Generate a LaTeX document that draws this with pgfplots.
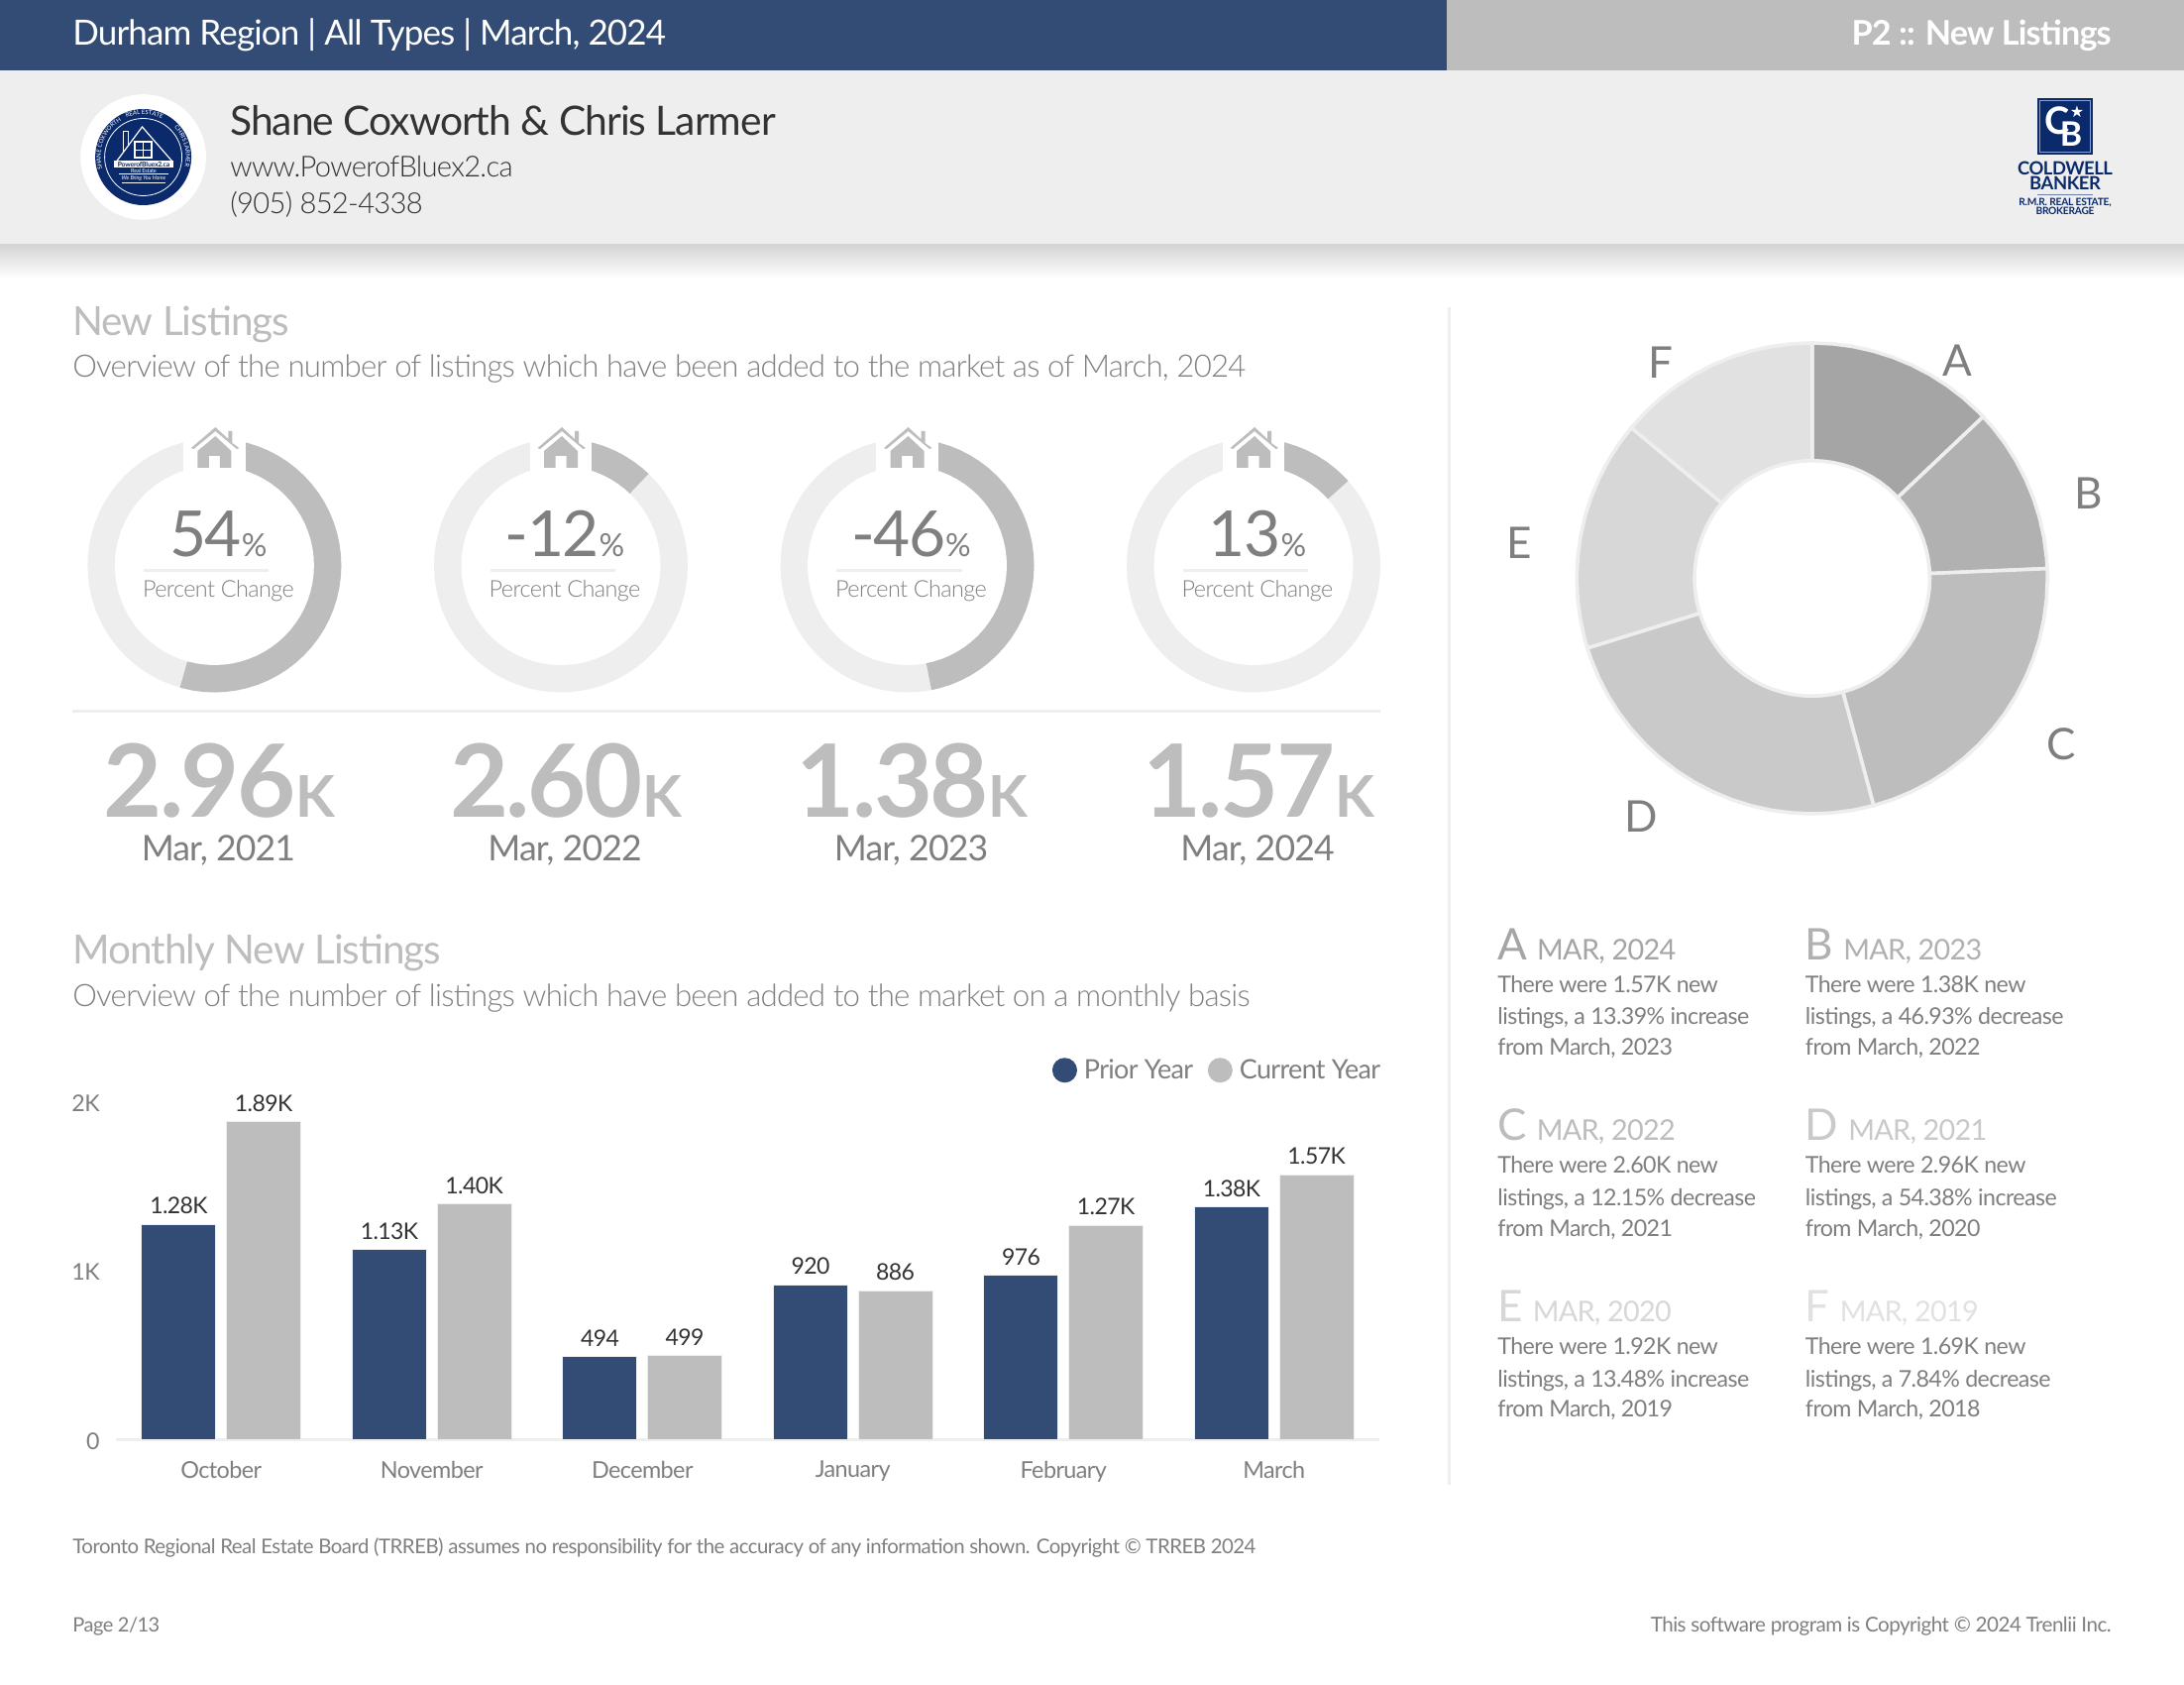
\documentclass[border=0pt]{standalone}
\usepackage{pgfplots}
\pgfplotsset{compat=1.18}
\usepackage{pgfplotstable}
\usepackage{fontspec}
\usepgfplotslibrary{polar}
\usetikzlibrary{decorations.text}
\setmainfont{Lato}[LetterSpace=-2.5]
\newfontfamily\light{Lato Light}[LetterSpace=-2.5]
\newfontfamily\sym{DejaVu Sans}
\definecolor{navy}{HTML}{334C75}
\definecolor{logoblue}{HTML}{0B2A6B}
\definecolor{midgray}{HTML}{BDBDBD}
\definecolor{pale}{HTML}{EEEEEE}
\definecolor{txt}{HTML}{7F7F7F}
\definecolor{dark}{HTML}{333333}
\definecolor{sa}{HTML}{A5A5A5}
\definecolor{sb}{HTML}{B1B1B1}
\definecolor{sc}{HTML}{BDBDBD}
\definecolor{sd}{HTML}{C9C9C9}
\definecolor{se}{HTML}{D7D7D7}
\definecolor{sf}{HTML}{E1E1E1}
\newcommand\fs[1]{\fontsize{#1}{#1}\selectfont}

% unit circle, outer radius and the two hole radii
\pgfplotstableread{
a r donut gauge
0 1 0.5 0.785
5 1 0.5 0.785
10 1 0.5 0.785
15 1 0.5 0.785
20 1 0.5 0.785
25 1 0.5 0.785
30 1 0.5 0.785
35 1 0.5 0.785
40 1 0.5 0.785
45 1 0.5 0.785
50 1 0.5 0.785
55 1 0.5 0.785
60 1 0.5 0.785
65 1 0.5 0.785
70 1 0.5 0.785
75 1 0.5 0.785
80 1 0.5 0.785
85 1 0.5 0.785
90 1 0.5 0.785
95 1 0.5 0.785
100 1 0.5 0.785
105 1 0.5 0.785
110 1 0.5 0.785
115 1 0.5 0.785
120 1 0.5 0.785
125 1 0.5 0.785
130 1 0.5 0.785
135 1 0.5 0.785
140 1 0.5 0.785
145 1 0.5 0.785
150 1 0.5 0.785
155 1 0.5 0.785
160 1 0.5 0.785
165 1 0.5 0.785
170 1 0.5 0.785
175 1 0.5 0.785
180 1 0.5 0.785
185 1 0.5 0.785
190 1 0.5 0.785
195 1 0.5 0.785
200 1 0.5 0.785
205 1 0.5 0.785
210 1 0.5 0.785
215 1 0.5 0.785
220 1 0.5 0.785
225 1 0.5 0.785
230 1 0.5 0.785
235 1 0.5 0.785
240 1 0.5 0.785
245 1 0.5 0.785
250 1 0.5 0.785
255 1 0.5 0.785
260 1 0.5 0.785
265 1 0.5 0.785
270 1 0.5 0.785
275 1 0.5 0.785
280 1 0.5 0.785
285 1 0.5 0.785
290 1 0.5 0.785
295 1 0.5 0.785
300 1 0.5 0.785
305 1 0.5 0.785
310 1 0.5 0.785
315 1 0.5 0.785
320 1 0.5 0.785
325 1 0.5 0.785
330 1 0.5 0.785
335 1 0.5 0.785
340 1 0.5 0.785
345 1 0.5 0.785
350 1 0.5 0.785
355 1 0.5 0.785
360 1 0.5 0.785
}\circletab

\pgfplotsset{
  ring/.style={hide axis, scale only axis, clip=false, xmin=0, xmax=360, ymin=0, ymax=1,
    width=128pt, height=128pt, anchor=center},
}

% house icon in the gap of each gauge
\newcommand\house[1]{%
  \fill[white] (#1-31.3,425) rectangle (#1+31.3,475);
  \fill[midgray] (#1-23.5,452) -- (#1+1,431) -- (#1+14,443) -- (#1+14,435) -- (#1+18,435)
     -- (#1+18,447) -- (#1+25,452) -- (#1+22.5,453) -- (#1+1,435) -- (#1-21,453) -- cycle;
  \fill[midgray] (#1+1,440) -- (#1-17,455) -- (#1-17,472) -- (#1-5.5,472) -- (#1-5.5,460)
     -- (#1+5.5,460) -- (#1+5.5,472) -- (#1+17,472) -- (#1+17,455) -- cycle;
}
% number block under a gauge
\newcommand\gaugetext[4]{%
  \node[anchor=base,inner sep=0,text=txt] at (#1+4,561.7) {\fs{32}#2{\fs{16}\%}};
  \fill[pale] (#1-71.5,573.5) rectangle (#1+55,576.5);
  \node[anchor=center,inner sep=0,text=txt] at (#1+4,596) {\light\fs{11.7}Percent Change};
  \node[anchor=base,inner sep=0,text=midgray] at (#1+5,824) {\fs{51}\bfseries #3{\fs{29}K}};
  \node[anchor=base,inner sep=0,text=txt] at (#1+4,868) {\fs{17.8}#4};
}
% one note under the donut
\newcommand\note[8]{%
  \node[anchor=base west,inner sep=0,text=#3] at (#1,#2+1) {\fs{22}#4\hspace{5pt}\fs{14.4}#5};
  \node[anchor=base west,inner sep=0,text=txt] at (#1,#2+34) {\fs{11.6}#6};
  \node[anchor=base west,inner sep=0,text=txt] at (#1,#2+66.6) {\fs{11.6}#7};
  \node[anchor=base west,inner sep=0,text=txt] at (#1,#2+97.5) {\fs{11.6}#8};
}

\begin{document}
\begin{tikzpicture}[x=0.5pt,y=-0.5pt]
\path[use as bounding box,fill=white] (0,0) rectangle (2204,1700);

% header
\fill[navy] (0,0) rectangle (1460,71);
\fill[midgray] (1460,0) rectangle (2204,71);
\fill[pale] (0,71) rectangle (2204,246.5);
\shade[top color=black!17,bottom color=white] (0,246.5) rectangle (2204,281);
\node[anchor=base west,inner sep=0,text=white] at (73,45.2) {\fs{17.5}Durham Region | All Types | March, 2024};
\node[anchor=base east,inner sep=0,text=white] at (2131,45.2) {\fs{17.1}\bfseries P2 :: New Listings};
\node[anchor=base west,inner sep=0,text=dark] at (232,137) {\fs{20.4}Shane Coxworth \& Chris Larmer};
\node[anchor=base west,inner sep=0,text=dark] at (232,178.5) {\light\fs{14.6}www.PowerofBluex2.ca};
\node[anchor=base west,inner sep=0,text=dark] at (232,216) {\light\fs{14.6}(905) 852-4338};

% agent badge
\fill[white] (144.6,158.5) circle[radius=63.3];
\fill[logoblue] (144.6,158.5) circle[radius=48.5];
\draw[white,line width=0.4pt] (144.6,158.5) circle[radius=39];
\draw[white,line width=0.6pt] (117.5,163) -- (143.5,128) -- (174,163);
\draw[white,line width=0.4pt] (124,153) -- (124,132) -- (129,132) -- (129,146);
\draw[white,line width=0.6pt,fill=logoblue] (136,143) rectangle (153,159);
\draw[white,line width=0.4pt] (144.5,143) -- (144.5,159) (136,151) -- (153,151);
\fill[white] (115,162.5) rectangle (175,169);
\node[inner sep=0,text=logoblue] at (145,165.8) {\fs{3.4}\bfseries PowerofBluex2.ca};
\node[inner sep=0,text=white] at (145,172.5) {\fs{2.8}Real Estate};
\draw[white,line width=0.3pt] (120,175.5) -- (170,175.5) (123,184) -- (167,184);
\node[inner sep=0,text=white] at (145,180) {\fs{2.8}\itshape We Bring You Home};
\path[postaction={decorate,decoration={text along path,text align=center,
   text={|\fs{3}\color{white}|SHANE COXWORTH \ \ \ REAL ESTATE \ \ \ \ \ \ \ \ \ \ CHRIS LARMER \ }}}]
   (144.6,201.5) arc[start angle=90,end angle=450,radius=43];

% brokerage mark
\fill[logoblue] (2056,99) rectangle (2112,155.7);
\draw[white!55!logoblue,line width=0.4pt] (2058.5,101.5) rectangle (2109.5,153.2);
\node[inner sep=0,text=white] at (2076,122) {\fs{19}\bfseries C};
\node[inner sep=0,text=white] at (2090,135) {\fs{17}\bfseries B};
\node[inner sep=0,text=white] at (2096,113) {\sym\fs{8}★};
\node[inner sep=0,text=logoblue] at (2084,170) {\fs{9.2}\bfseries COLDWELL};
\node[inner sep=0,text=logoblue] at (2084,185) {\fs{9.2}\bfseries BANKER};
\draw[logoblue!60,line width=0.4pt] (2056,196) -- (2112,196);
\node[inner sep=0,text=logoblue] at (2084,205) {\fs{5.1}\bfseries R.M.R. REAL ESTATE,};
\node[inner sep=0,text=logoblue] at (2084,213) {\fs{5.1}\bfseries BROKERAGE};

% section headings
\node[anchor=base west,inner sep=0,text=midgray] at (73,339) {\fs{20.25}New Listings};
\node[anchor=base west,inner sep=0,text=txt] at (73,380.5) {\light\fs{15.6}Overview of the number of listings which have been added to the market as of March, 2024};
\node[anchor=base west,inner sep=0,text=midgray] at (73,972.5) {\fs{20.25}Monthly New Listings};
\node[anchor=base west,inner sep=0,text=txt] at (73,1015.5) {\light\fs{15.6}Overview of the number of listings which have been added to the market on a monthly basis};
\fill[pale] (73,715.5) rectangle (1393,718.5);
\fill[pale] (1461,310) rectangle (1464,1498);

% gauges, clockwise from the top
\begin{polaraxis}[ring,at={(108.2pt,-285.25pt)}]
  \addplot[fill=pale,draw=none] table[x=a,y=r] {\circletab};
  \addplot[fill=midgray,draw=none] coordinates {(0,0)(90,1)(85,1)(80,1)(75,1)(70,1)(65,1)(60,1)(55,1)(50,1)(45,1)(40,1)(35,1)(30,1)(25,1)(20,1)(15,1)(10,1)(5,1)(0,1)(355,1)(350,1)(345,1)(340,1)(335,1)(330,1)(325,1)(320,1)(315,1)(310,1)(305,1)(300,1)(295,1)(290,1)(285,1)(280,1)(275,1)(270,1)(265,1)(260,1)(255,1)(254.23,1)(0,0)};
  \addplot[fill=white,draw=none] table[x=a,y=gauge] {\circletab};
\end{polaraxis}
\begin{polaraxis}[ring,at={(283pt,-285.25pt)}]
  \addplot[fill=pale,draw=none] table[x=a,y=r] {\circletab};
  \addplot[fill=midgray,draw=none] coordinates {(0,0)(90,1)(85,1)(80,1)(75,1)(70,1)(65,1)(60,1)(55,1)(50,1)(46.26,1)(0,0)};
  \addplot[fill=white,draw=none] table[x=a,y=gauge] {\circletab};
\end{polaraxis}
\begin{polaraxis}[ring,at={(457.75pt,-285.25pt)}]
  \addplot[fill=pale,draw=none] table[x=a,y=r] {\circletab};
  \addplot[fill=midgray,draw=none] coordinates {(0,0)(90,1)(85,1)(80,1)(75,1)(70,1)(65,1)(60,1)(55,1)(50,1)(45,1)(40,1)(35,1)(30,1)(25,1)(20,1)(15,1)(10,1)(5,1)(0,1)(355,1)(350,1)(345,1)(340,1)(335,1)(330,1)(325,1)(320,1)(315,1)(310,1)(305,1)(300,1)(295,1)(290,1)(285,1)(281.05,1)(0,0)};
  \addplot[fill=white,draw=none] table[x=a,y=gauge] {\circletab};
\end{polaraxis}
\begin{polaraxis}[ring,at={(632.5pt,-285.25pt)}]
  \addplot[fill=pale,draw=none] table[x=a,y=r] {\circletab};
  \addplot[fill=midgray,draw=none] coordinates {(0,0)(90,1)(85,1)(80,1)(75,1)(70,1)(65,1)(60,1)(55,1)(50,1)(45,1)(41.8,1)(0,0)};
  \addplot[fill=white,draw=none] table[x=a,y=gauge] {\circletab};
\end{polaraxis}
\house{216.4}\house{566}\house{915.5}\house{1265}
\gaugetext{216.4}{54}{2.96}{Mar, 2021}
\gaugetext{566}{-12}{2.60}{Mar, 2022}
\gaugetext{915.5}{-46}{1.38}{Mar, 2023}
\gaugetext{1265}{13}{1.57}{Mar, 2024}

% donut of the six years
\begin{polaraxis}[ring,at={(914.35pt,-291.75pt)},width=237.5pt,height=237.5pt]
  \addplot[fill=sa,draw=pale,line width=1.8pt] coordinates {(0,0)(90,1)(85,1)(80,1)(75,1)(70,1)(65,1)(60,1)(55,1)(50,1)(45,1)(43.37,1)(0,0)};
  \addplot[fill=sb,draw=pale,line width=1.8pt] coordinates {(0,0)(43.37,1)(40,1)(35,1)(30,1)(25,1)(20,1)(15,1)(10,1)(5,1)(2.38,1)(0,0)};
  \addplot[fill=sc,draw=pale,line width=1.8pt] coordinates {(0,0)(2.38,1)(0,1)(355,1)(350,1)(345,1)(340,1)(335,1)(330,1)(325,1)(320,1)(315,1)(310,1)(305,1)(300,1)(295,1)(290,1)(285.15,1)(0,0)};
  \addplot[fill=sd,draw=pale,line width=1.8pt] coordinates {(0,0)(285.15,1)(280,1)(275,1)(270,1)(265,1)(260,1)(255,1)(250,1)(245,1)(240,1)(235,1)(230,1)(225,1)(220,1)(215,1)(210,1)(205,1)(200,1)(197.23,1)(0,0)};
  \addplot[fill=se,draw=pale,line width=1.8pt] coordinates {(0,0)(197.23,1)(195,1)(190,1)(185,1)(180,1)(175,1)(170,1)(165,1)(160,1)(155,1)(150,1)(145,1)(140.2,1)(0,0)};
  \addplot[fill=sf,draw=pale,line width=1.8pt] coordinates {(0,0)(140.2,1)(135,1)(130,1)(125,1)(120,1)(115,1)(110,1)(105,1)(100,1)(95,1)(90,1)(0,0)};
  \addplot[fill=white,draw=pale,line width=1.8pt] table[x=a,y=donut] {\circletab};
\end{polaraxis}
\node[text=txt,inner sep=0] at (1975,364) {\fs{22}A};
\node[text=txt,inner sep=0] at (2108,497.6) {\fs{22}B};
\node[text=txt,inner sep=0] at (2080,750.6) {\fs{22}C};
\node[text=txt,inner sep=0] at (1656,823.7) {\fs{22}D};
\node[text=txt,inner sep=0] at (1533.5,548) {\fs{22}E};
\node[text=txt,inner sep=0] at (1675.5,365.5) {\fs{22}F};

\note{1511}{967}{sa}{A}{MAR, 2024}{There were 1.57K new}{listings, a 13.39\% increase}{from March, 2023}
\note{1821.5}{967}{sb}{B}{MAR, 2023}{There were 1.38K new}{listings, a 46.93\% decrease}{from March, 2022}
\note{1511}{1149.7}{sc}{C}{MAR, 2022}{There were 2.60K new}{listings, a 12.15\% decrease}{from March, 2021}
\note{1821.5}{1149.7}{sd}{D}{MAR, 2021}{There were 2.96K new}{listings, a 54.38\% increase}{from March, 2020}
\note{1511}{1332.4}{se}{E}{MAR, 2020}{There were 1.92K new}{listings, a 13.48\% increase}{from March, 2019}
\note{1821.5}{1332.4}{sf}{F}{MAR, 2019}{There were 1.69K new}{listings, a 7.84\% decrease}{from March, 2018}

% monthly bars
\begin{axis}[
  at={(58.5pt,-726.35pt)}, anchor=south west,
  scale only axis, width=637.5pt, height=169.8pt,
  ymin=0, ymax=2000, xmin=-0.5, xmax=5.5,
  axis y line=none, axis x line=bottom,
  axis line style={pale,line width=1.5pt,-},
  clip=false,
  xtick=data,
  xticklabels={October,November,December,January,February,March},
  xticklabel style={text=txt,font=\fs{11.7},yshift=-7pt},
  major tick length=0pt,
  legend style={at={(1,1)},anchor=south east,draw=none,fill=none,inner sep=0pt,outer sep=0pt,
    xshift=4.1pt,yshift=9pt,font=\fs{13.5}\color{txt},legend columns=2,
    nodes={inner xsep=3.5pt},
    /tikz/every even column/.append style={column sep=3.8pt}},
  point meta=explicit symbolic,
  nodes near coords,
  every node near coord/.append style={font=\fs{11.5},text=dark,inner sep=0pt,yshift=5pt},
]
\addplot[ybar,bar width=37.5pt,bar shift=-21.4pt,fill=navy,draw=pale,line width=0.5pt,
  every node near coord/.append style={xshift=-21.4pt},
  legend image code/.code={\fill[navy] (-1.4pt,0pt) circle[radius=6pt];}]
  coordinates {(0,1280)[1.28K](1,1130)[1.13K](2,494)[494](3,920)[920](4,976)[976](5,1384)[1.38K]};
\addplot[ybar,bar width=37.5pt,bar shift=21.4pt,fill=midgray,draw=pale,line width=0.5pt,
  every node near coord/.append style={xshift=21.4pt},
  legend image code/.code={\fill[midgray] (-1.4pt,0pt) circle[radius=6pt];}]
  coordinates {(0,1890)[1.89K](1,1400)[1.40K](2,499)[499](3,886)[886](4,1274)[1.27K](5,1574)[1.57K]};
\legend{Prior Year,Current Year}
\end{axis}
\node[anchor=east,inner sep=0,text=txt] at (101,1113) {\fs{11.6}2K};
\node[anchor=east,inner sep=0,text=txt] at (101,1283) {\fs{11.6}1K};
\node[anchor=east,inner sep=0,text=txt] at (101,1454) {\fs{11.6}0};

% footer
\node[anchor=base west,inner sep=0,text=txt] at (73,1567) {\fs{10.2}Toronto Regional Real Estate Board (TRREB) assumes no responsibility for the accuracy of any information shown. Copyright © TRREB 2024};
\node[anchor=base west,inner sep=0,text=txt] at (73,1646) {\fs{10}Page 2/13};
\node[anchor=base east,inner sep=0,text=txt] at (2131,1646) {\fs{10.3}This software program is Copyright © 2024 Trenlii Inc.};
\end{tikzpicture}
\end{document}
